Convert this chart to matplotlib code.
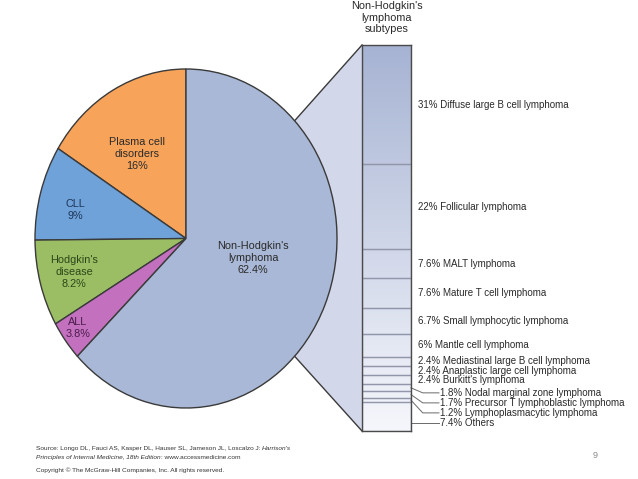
import numpy as np
import matplotlib
matplotlib.use('Agg')
import matplotlib.pyplot as plt
import matplotlib.transforms as mtransforms
from matplotlib.colors import LinearSegmentedColormap
from matplotlib.patches import Polygon

plt.rcParams['font.family'] = ['Liberation Sans', 'DejaVu Sans']

# ---------------- data ----------------
pie_labels = ["Plasma cell\ndisorders", "CLL", "Hodgkin's\ndisease", "ALL",
              "Non-Hodgkin's\nlymphoma"]
pie_values = [16, 9, 8.2, 3.8, 62.4]

sub_labels = ["Diffuse large B cell lymphoma", "Follicular lymphoma",
              "MALT lymphoma", "Mature T cell lymphoma",
              "Small lymphocytic lymphoma", "Mantle cell lymphoma",
              "Mediastinal large B cell lymphoma",
              "Anaplastic large cell lymphoma", "Burkitt's lymphoma",
              "Nodal marginal zone lymphoma",
              "Precursor T lymphoblastic lymphoma",
              "Lymphoplasmacytic lymphoma", "Others"]
sub_values = [31, 22, 7.6, 7.6, 6.7, 6, 2.4, 2.4, 2.4, 1.8, 1.7, 1.2, 7.4]

# ---------------- style / layout ----------------
pie_colors = ['#f7a35a', '#6ea2d9', '#9bbd63', '#c371bf', '#a9b8d6']
pie_text_colors = ['#2a2a2a', '#1f3558', '#2c4719', '#4a1c4a', '#2a2a2a']
# label anchor positions inside the pie (pie-axes data units)
pie_label_pos = [(-0.325, 0.50), (-0.735, 0.168), (-0.742, -0.198),
                 (-0.715, -0.528), (0.444, -0.115)]
n_direct = 9          # labels placed next to their own segment

W, H = 638, 479
fig = plt.figure(figsize=(W / 100, H / 100), dpi=100)
fig.patch.set_facecolor('white')


def px_rect(x0, y0, x1, y1):
    return [x0 / W, 1 - y1 / H, (x1 - x0) / W, (y1 - y0) / H]


# background / overlay axes in pixel units
ax0 = fig.add_axes([0, 0, 1, 1], zorder=1)
ax0.set_xlim(0, W)
ax0.set_ylim(H, 0)
ax0.axis('off')

# pie (ellipse, as in the reference)
pie_box = (35, 69, 337, 408)
axp = fig.add_axes(px_rect(*pie_box), zorder=3)
axp.patch.set_alpha(0)
wedges, _ = axp.pie(pie_values, colors=pie_colors, startangle=90,
                    counterclock=True, radius=1,
                    wedgeprops=dict(edgecolor='#3a3a3a', linewidth=1.0))
for w in wedges:
    w.set_clip_on(False)
axp.set_aspect('auto')
axp.set_xlim(-1, 1)
axp.set_ylim(-1, 1)
axp.axis('off')
for lab, v, (x, y), c in zip(pie_labels, pie_values, pie_label_pos, pie_text_colors):
    axp.text(x, y, f"{lab}\n{v:g}%", ha='center', va='center', fontsize=7.8,
             color=c, linespacing=1.22)

# stacked subtype bar
bar_box = (362, 45, 411, 431)
axb = fig.add_axes(px_rect(*bar_box), zorder=2)
total = sum(sub_values)
starts = np.concatenate([[0], np.cumsum(sub_values)[:-1]])
mids = starts + np.array(sub_values) / 2
cmap = LinearSegmentedColormap.from_list('g', ['#a6b3d3', '#f6f7fc'])
axb.imshow(np.linspace(0, 1, 256).reshape(-1, 1), cmap=cmap, aspect='auto',
           extent=(-0.5, 0.5, total, 0), zorder=0)
axb.bar(np.zeros(len(sub_values)), sub_values, bottom=starts, width=1,
        facecolor='none', edgecolor='#9196aa', linewidth=0.9, zorder=1)
axb.set_xlim(-0.5, 0.5)
axb.set_ylim(total, 0)
axb.set_xticks([])
axb.set_yticks([])
for s in axb.spines.values():
    s.set_color('#4a4a4a')
    s.set_linewidth(1.0)

trans = mtransforms.blended_transform_factory(axb.transAxes, axb.transData)
for i in range(n_direct):
    axb.text(1.14, mids[i], f"{sub_values[i]:g}% {sub_labels[i]}", transform=trans,
             ha='left', va='center', fontsize=7, color='#2a2a2a', clip_on=False)

# crowded labels with leader lines
step = 2.6
first = mids[n_direct - 1] + 3.4
for k, i in enumerate(range(n_direct, len(sub_values))):
    ly = first + step * k
    anchor = mids[i] if i < len(sub_values) - 1 else ly
    axb.plot([1.0, 1.24, 1.57], [anchor, ly, ly], transform=trans,
             color='#6a6a6a', lw=0.7, clip_on=False)
    axb.text(1.6, ly, f"{sub_values[i]:g}% {sub_labels[i]}", transform=trans,
             ha='left', va='center', fontsize=7, color='#2a2a2a', clip_on=False)

# connector between pie and bar
cx = (pie_box[0] + pie_box[2]) / 2
cy = (pie_box[1] + pie_box[3]) / 2
rx = (pie_box[2] - pie_box[0]) / 2
ry = (pie_box[3] - pie_box[1]) / 2
ang = np.deg2rad(44)
up = (cx + rx * np.cos(ang), cy - ry * np.sin(ang))
lo = (cx + rx * np.cos(ang), cy + ry * np.sin(ang))
tl = (bar_box[0], bar_box[1])
bl = (bar_box[0], bar_box[3])
ax0.add_patch(Polygon([tl, up, (cx, cy), lo, bl], closed=True,
                      facecolor='#d3d7ea', edgecolor='none'))
ax0.plot([tl[0], up[0]], [tl[1], up[1]], color='#3a3a3a', lw=1.0)
ax0.plot([bl[0], lo[0]], [bl[1], lo[1]], color='#3a3a3a', lw=1.0)

ax0.text(387, 1, "Non-Hodgkin's\nlymphoma\nsubtypes", ha='center', va='top',
         fontsize=7.8, color='#2a2a2a', linespacing=1.2)

# footer
ffam = ['Liberation Sans', 'DejaVu Sans']
fs = 4.65
fc = '#333333'
t1 = ax0.text(36, 451, "Source: Longo DL, Fauci AS, Kasper DL, Hauser SL, Jameson JL, Loscalzo J: ",
              fontsize=fs, family=ffam, color=fc, va='bottom', ha='left')
ax0.annotate("Harrison's", xy=(1, 0), xycoords=t1, va='bottom', ha='left',
             fontsize=fs, family=ffam, style='italic', color=fc)
t2 = ax0.text(36, 460, "Principles of Internal Medicine, 18th Edition",
              fontsize=fs, family=ffam, style='italic', color=fc, va='bottom', ha='left')
ax0.annotate(": www.accessmedicine.com", xy=(1, 0), xycoords=t2, va='bottom',
             ha='left', fontsize=fs, family=ffam, color=fc)
ax0.text(36, 473, "Copyright \u00a9 The McGraw-Hill Companies, Inc. All rights reserved.",
         fontsize=fs, family=ffam, color=fc, va='bottom', ha='left')
ax0.text(595, 456, "9", fontsize=6.5, color='#8a8a8a', ha='center', va='center')

fig.savefig('out.png', dpi=100, facecolor='white')
